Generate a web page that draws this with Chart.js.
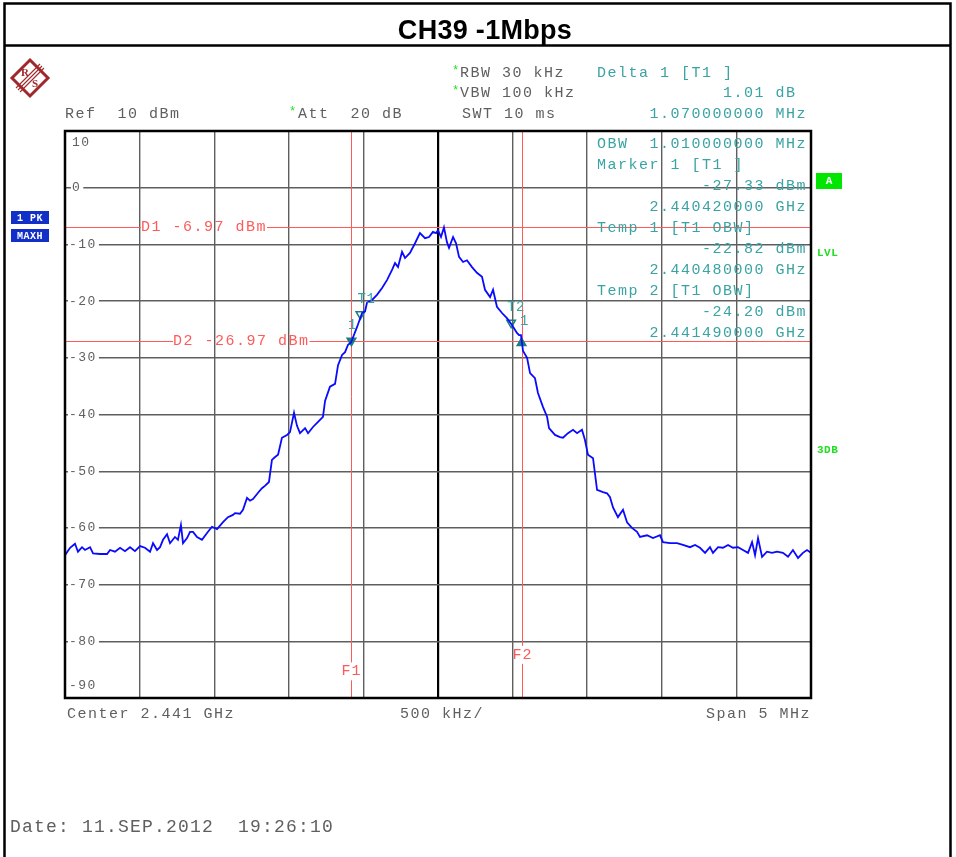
<!DOCTYPE html>
<html><head><meta charset="utf-8">
<script src="https://cdn.jsdelivr.net/npm/chart.js@4.4.1/dist/chart.umd.min.js"></script>
<style>html,body{margin:0;padding:0;background:#fff;}canvas{display:block;}</style>
</head><body>
<canvas id="c" width="956" height="857"></canvas>
<script>
// ---- data ----
const chartTitle = 'CH39 -1Mbps';
const xRangeMHz = [2438.5, 2443.5];
const xStepMHz = 0.5;
const centerMHz = 2441.0;
const yRangeDbm = [-90, 10];
const yTickValues = [10, 0, -10, -20, -30, -40, -50, -60, -70, -80, -90];
const yTickLabels = ['10', '0', '-10', '-20', '-30', '-40', '-50', '-60', '-70', '-80', '-90'];

const traceFreqMHz = [
 2438.500,2438.534,2438.567,2438.587,2438.614,2438.634,2438.668,2438.688,2438.735,2438.782,
 2438.802,2438.835,2438.869,2438.902,2438.936,2438.969,2439.003,2439.036,2439.070,2439.090,
 2439.117,2439.137,2439.157,2439.184,2439.204,2439.237,2439.257,2439.277,2439.291,2439.318,
 2439.338,2439.358,2439.385,2439.418,2439.452,2439.485,2439.519,2439.559,2439.592,2439.626,
 2439.639,2439.673,2439.693,2439.720,2439.740,2439.760,2439.794,2439.820,2439.840,2439.867,
 2439.887,2439.908,2439.928,2439.954,2439.988,2440.008,
 2440.035,2440.055,2440.075,2440.109,2440.129,2440.162,2440.196,2440.229,2440.243,2440.276,
 2440.310,2440.330,2440.357,2440.377,2440.397,2440.417,2440.457,2440.491,2440.511,2440.524,
 2440.558,2440.591,2440.625,2440.658,2440.692,2440.712,2440.732,2440.759,2440.779,2440.812,
 2440.846,2440.879,2440.913,2440.940,2440.966,2440.987,2441.000,2441.020,2441.040,2441.060,
 2441.074,2441.101,2441.121,2441.141,2441.168,2441.194,2441.228,2441.261,2441.295,2441.315,
 2441.349,2441.369,2441.395,2441.429,2441.462,2441.496,2441.529,2441.543,2441.556,2441.570,
 2441.597,2441.617,2441.650,2441.670,2441.704,2441.731,2441.744,2441.784,2441.818,2441.838,
 2441.871,2441.905,2441.932,2441.965,2441.985,2442.005,2442.039,2442.066,2442.106,2442.133,
 2442.153,2442.173,2442.206,2442.240,2442.267,2442.300,2442.334,2442.354,2442.401,2442.441,
 2442.488,2442.508,2442.555,2442.602,2442.642,2442.689,2442.723,2442.756,2442.790,2442.823,
 2442.843,2442.877,2442.910,2442.944,2442.977,2443.011,2443.044,2443.078,2443.105,2443.125,
 2443.145,2443.172,2443.205,2443.239,2443.272,2443.312,2443.346,2443.379,2443.413,2443.446,
 2443.473,2443.500
];
const traceLevelDbm = [
 -64.8,-63.5,-62.8,-64.2,-63.4,-63.9,-63.4,-64.5,-64.6,-64.6,
 -63.9,-64.2,-63.5,-64.1,-63.4,-64.1,-63.2,-63.5,-64.2,-62.7,
 -63.9,-63.4,-62.1,-61.1,-62.7,-61.6,-62.1,-59.5,-62.7,-61.8,
 -60.7,-60.7,-61.6,-62.1,-60.9,-59.8,-60.2,-59.0,-58.1,-57.7,
 -57.4,-57.5,-56.8,-54.7,-55.2,-54.9,-53.8,-53.0,-52.6,-51.9,
 -48.0,-47.5,-47.1,-44.1,-43.6,-43.1,
 -39.7,-42.0,-43.3,-42.4,-43.3,-42.2,-41.3,-40.4,-37.6,-35.1,
 -34.6,-31.3,-29.5,-29.0,-27.7,-27.3,-24.6,-22.1,-21.8,-20.3,
 -19.8,-18.9,-17.7,-16.3,-14.5,-13.3,-14.0,-11.3,-12.4,-11.5,
 -9.8,-8.0,-8.9,-8.7,-7.8,-8.0,-7.5,-8.7,-7.0,-9.6,
 -10.6,-8.7,-9.8,-12.2,-13.1,-12.8,-14.0,-15.0,-15.7,-18.0,
 -19.3,-18.0,-21.0,-22.1,-23.0,-24.2,-25.6,-26.0,-26.0,-28.8,
 -30.0,-32.7,-33.6,-36.2,-38.7,-40.4,-42.4,-43.6,-44.0,-44.1,
 -43.3,-42.7,-43.3,-42.7,-44.5,-47.1,-47.7,-53.3,-53.7,-53.9,
 -54.6,-56.4,-58.1,-56.8,-59.0,-60.0,-60.7,-61.6,-61.3,-61.8,
 -61.3,-62.5,-62.7,-62.7,-63.0,-63.4,-63.0,-63.5,-64.4,-63.4,
 -64.4,-63.4,-63.5,-63.0,-63.5,-63.4,-63.9,-64.4,-62.5,-64.8,
 -61.8,-65.1,-64.2,-64.4,-64.2,-64.4,-65.1,-63.9,-65.3,-64.4,
 -63.9,-64.4
];

// markers: Marker 1, Temp 1 (T1), Temp 2 (T2), Delta 1
const markerNames = ['1', 'T1', 'T2', '1'];
const markerFreqMHz = [2440.42, 2440.48, 2441.49, 2441.56];
const markerLevelDbm = [-27.0, -22.3, -23.8, -27.4];

// display lines
const dLineNames = ['D1', 'D2'];
const dLineLevelDbm = [-6.97, -26.97];
const fLineNames = ['F1', 'F2'];
const fLineFreqMHz = [2440.42, 2441.56];
const fLineLabelDbm = [-85.3, -82.4];

// header / info texts
const headerLeft = ['Ref  10 dBm', 'Att  20 dB'];
const headerSettings = ['RBW 30 kHz', 'VBW 100 kHz', 'SWT 10 ms'];
const deltaTexts = ['Delta 1 [T1 ]', '1.01 dB ', '1.070000000 MHz'];
const markerInfoTexts = [
  'OBW  1.010000000 MHz', 'Marker 1 [T1 ]', '-27.33 dBm', '2.440420000 GHz',
  'Temp 1 [T1 OBW]', '-22.82 dBm', '2.440480000 GHz',
  'Temp 2 [T1 OBW]', '-24.20 dBm', '2.441490000 GHz'
];
const footerTexts = ['Center 2.441 GHz', '500 kHz/', 'Span 5 MHz'];
const dateText = 'Date: 11.SEP.2012  19:26:10';

// ---- drawing ----
const MONO = '"Liberation Mono","DejaVu Sans Mono",monospace';
const GRAY = '#5f5f5f', TEAL = '#3aa3a3', RED = '#ff5a5a', GREEN = '#22dd22';
function txt(ctx, s, x, y, o) {
  o = Object.assign({color: GRAY, size: 15, align: 'left', spacing: 1.5, weight: 'normal', family: MONO}, o || {});
  ctx.save();
  ctx.font = o.weight + ' ' + o.size + 'px ' + o.family;
  ctx.fillStyle = o.color; ctx.textAlign = o.align; ctx.textBaseline = 'middle';
  if ('letterSpacing' in ctx) ctx.letterSpacing = o.spacing + 'px';
  ctx.fillText(s, x, y);
  const w = ctx.measureText(s).width;
  ctx.restore();
  return w;
}

const analyzerPlugin = {
  id: 'analyzer',
  beforeDatasetsDraw(chart) {
    const ctx = chart.ctx, a = chart.chartArea, xs = chart.scales.x, ys = chart.scales.y;
    // y tick labels inside plot
    yTickValues.forEach((v, i) => {
      let y = ys.getPixelForValue(v);
      if (i === 0) y += 12;
      if (i === yTickValues.length - 1) y -= 12;
      const s = yTickLabels[i];
      const x0 = a.left + (s[0] === '-' ? 4 : 7);
      ctx.save();
      ctx.font = '13px ' + MONO;
      if ('letterSpacing' in ctx) ctx.letterSpacing = '1.5px';
      const w = ctx.measureText(s).width;
      ctx.fillStyle = '#fff';
      if (i !== 0 && i !== yTickValues.length - 1) ctx.fillRect(x0 - 1, y - 3, w + 3, 6);
      ctx.restore();
      txt(ctx, s, x0, y, {size: 13, color: GRAY});
    });
    // display lines D1 / D2
    const dLabelX = [a.left + 76, a.left + 108];
    ctx.save();
    ctx.strokeStyle = RED; ctx.lineWidth = 1;
    dLineLevelDbm.forEach((lv, i) => {
      const y = Math.round(ys.getPixelForValue(lv)) + 0.5;
      const label = dLineNames[i] + ' ' + lv.toFixed(2) + ' dBm';
      ctx.font = '15px ' + MONO;
      if ('letterSpacing' in ctx) ctx.letterSpacing = '1.5px';
      const w = ctx.measureText(label).width;
      ctx.beginPath();
      ctx.moveTo(a.left, y); ctx.lineTo(dLabelX[i], y);
      ctx.moveTo(dLabelX[i] + w, y); ctx.lineTo(a.right, y);
      ctx.stroke();
      txt(ctx, label, dLabelX[i], y, {color: RED});
    });
    fLineFreqMHz.forEach((f, i) => {
      const x = Math.round(xs.getPixelForValue(f)) + 0.5;
      const ly = ys.getPixelForValue(fLineLabelDbm[i]);
      ctx.beginPath();
      ctx.moveTo(x, a.top); ctx.lineTo(x, ly - 9);
      ctx.moveTo(x, ly + 9); ctx.lineTo(x, a.bottom);
      ctx.stroke();
      txt(ctx, fLineNames[i], x, ly, {color: RED, align: 'center', spacing: 1});
    });
    ctx.restore();
  },
  afterDatasetsDraw(chart) {
    const ctx = chart.ctx, a = chart.chartArea, xs = chart.scales.x, ys = chart.scales.y;
    ctx.save();
    ctx.strokeStyle = '#000'; ctx.lineWidth = 2.5;
    ctx.strokeRect(a.left, a.top, a.right - a.left, a.bottom - a.top);
    ctx.restore();
    // marker labels
    const offs = [[1, -15], [6, -15], [5, -15], [3, -22]];
    markerNames.forEach((n, i) => {
      const x = xs.getPixelForValue(markerFreqMHz[i]);
      const y = ys.getPixelForValue(markerLevelDbm[i]);
      txt(ctx, n, x + offs[i][0], y + offs[i][1], {color: TEAL, size: 14, align: 'center', spacing: 0.5});
    });
    // marker info block
    markerInfoTexts.forEach((s, i) => {
      const y = a.top + 13 + i * 21;
      const leftAligned = /^(Marker|Temp)/.test(s);
      if (leftAligned) txt(ctx, s, 597, y, {color: TEAL});
      else txt(ctx, s, 807, y, {color: TEAL, align: 'right'});
    });
  },
  afterDraw(chart) {
    const ctx = chart.ctx;
    // page frame
    ctx.save();
    ctx.strokeStyle = '#000'; ctx.lineWidth = 2.5;
    ctx.beginPath();
    ctx.moveTo(4.5, 857); ctx.lineTo(4.5, 3.5); ctx.lineTo(950.5, 3.5); ctx.lineTo(950.5, 857);
    ctx.moveTo(4.5, 45.5); ctx.lineTo(950.5, 45.5);
    ctx.stroke();
    ctx.restore();
    txt(ctx, chartTitle, 485, 32, {family: '"Liberation Sans",Arial,sans-serif', weight: 'bold', size: 27, color: '#000', align: 'center', spacing: 0.3});

    // R&S logo
    ctx.save();
    ctx.translate(30, 78);
    ctx.strokeStyle = '#a0282a'; ctx.fillStyle = '#a0282a'; ctx.lineWidth = 3;
    ctx.beginPath(); ctx.moveTo(0, -18); ctx.lineTo(18, 0); ctx.lineTo(0, 18); ctx.lineTo(-18, 0); ctx.closePath(); ctx.stroke();
    ctx.lineWidth = 1.1;
    for (let k = -1; k <= 1; k++) {
      ctx.beginPath(); ctx.moveTo(12 + k * 2, -12 + k * 2); ctx.lineTo(-12 + k * 2, 12 + k * 2); ctx.stroke();
    }
    ctx.font = 'bold 11px "Liberation Serif",serif'; ctx.textAlign = 'center'; ctx.textBaseline = 'middle';
    ctx.fillText('R', -5, -5); ctx.fillText('S', 5, 6);
    ctx.restore();

    // header texts
    txt(ctx, '*', 452, 71, {color: GREEN, size: 12});
    txt(ctx, '*', 452, 91, {color: GREEN, size: 12});
    txt(ctx, '*', 289, 112, {color: GREEN, size: 12});
    txt(ctx, headerSettings[0], 460, 73);
    txt(ctx, headerSettings[1], 460, 93);
    txt(ctx, headerSettings[2], 462, 114);
    txt(ctx, headerLeft[0], 65, 114);
    txt(ctx, headerLeft[1], 298, 114);
    txt(ctx, deltaTexts[0], 597, 73, {color: TEAL});
    txt(ctx, deltaTexts[1], 807, 93, {color: TEAL, align: 'right'});
    txt(ctx, deltaTexts[2], 807, 114, {color: TEAL, align: 'right'});

    // right side indicators
    ctx.save(); ctx.fillStyle = '#00e600'; ctx.fillRect(816, 173, 26, 16); ctx.restore();
    txt(ctx, 'A', 829, 181.5, {color: '#fff', size: 11, weight: 'bold', align: 'center', spacing: 0});
    txt(ctx, 'LVL', 817, 253, {color: GREEN, size: 11, weight: 'bold', spacing: 0.5});
    txt(ctx, '3DB', 817, 450, {color: GREEN, size: 11, weight: 'bold', spacing: 0.5});
    // left side trace info
    ctx.save(); ctx.fillStyle = '#1230c8';
    ctx.fillRect(11, 211, 38, 13); ctx.fillRect(11, 229, 38, 13); ctx.restore();
    txt(ctx, '1 PK', 30, 218, {color: '#fff', size: 10, weight: 'bold', align: 'center', spacing: 0.5});
    txt(ctx, 'MAXH', 30, 236, {color: '#fff', size: 10, weight: 'bold', align: 'center', spacing: 0.5});

    // footer
    txt(ctx, footerTexts[0], 67, 714);
    txt(ctx, footerTexts[1], 400, 714);
    txt(ctx, footerTexts[2], 811, 714, {align: 'right'});
    txt(ctx, dateText, 10, 827, {size: 18, spacing: 1.2});
  }
};

const gridColor = (c) => (Math.abs(c.tick.value - centerMHz) < 1e-6 ? '#000' : '#5e5e5e');
const gridWidth = (c) => (Math.abs(c.tick.value - centerMHz) < 1e-6 ? 2.2 : 1.4);

new Chart(document.getElementById('c'), {
  type: 'line',
  data: {
    datasets: [
      {
        label: 'Trace 1',
        data: traceFreqMHz.map((f, i) => ({x: f, y: traceLevelDbm[i]})),
        borderColor: '#0a0aff', borderWidth: 1.8, pointRadius: 0, tension: 0, fill: false
      },
      {
        label: 'Markers',
        data: markerFreqMHz.map((f, i) => ({x: f, y: markerLevelDbm[i]})),
        showLine: false,
        pointStyle: 'triangle',
        pointRadius: 5,
        pointRotation: [180, 180, 180, 0],
        pointBackgroundColor: ['#1a7f7f', 'rgba(255,255,255,0)', 'rgba(255,255,255,0)', '#1a7f7f'],
        pointBorderColor: '#1a7f7f',
        pointBorderWidth: 1.5
      }
    ]
  },
  options: {
    responsive: false, animation: false, devicePixelRatio: 1,
    layout: {padding: {left: 65, top: 131, right: 145, bottom: 159}},
    plugins: {legend: {display: false}, tooltip: {enabled: false}, title: {display: false}},
    scales: {
      x: {
        type: 'linear', min: xRangeMHz[0], max: xRangeMHz[1],
        ticks: {display: false, stepSize: xStepMHz},
        grid: {color: gridColor, lineWidth: gridWidth, drawTicks: false},
        border: {display: false},
        afterFit: (s) => { s.height = 0; }
      },
      y: {
        type: 'linear', min: yRangeDbm[0], max: yRangeDbm[1],
        ticks: {display: false, stepSize: 10},
        grid: {color: '#5e5e5e', lineWidth: 1.4, drawTicks: false},
        border: {display: false},
        afterFit: (s) => { s.width = 0; }
      }
    }
  },
  plugins: [analyzerPlugin]
});
</script>
</body></html>
